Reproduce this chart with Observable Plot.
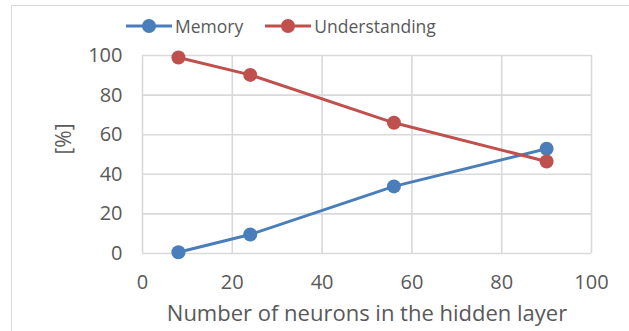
<!DOCTYPE html>
<html>
<head>
<meta charset="utf-8">
<script src="https://cdn.jsdelivr.net/npm/d3@7"></script>
<script src="https://cdn.jsdelivr.net/npm/@observablehq/plot@0.6"></script>
<style>
  body { margin: 0; background: #fff; }
  #wrap { position: relative; width: 629px; height: 331px; overflow: hidden; font-family: "Open Sans", sans-serif; color: #595959; }
  #frame { position: absolute; left: 11px; top: 5px; width: 700px; height: 400px; border: 1.5px solid #d9d9d9; box-sizing: border-box; }
  #chart { position: absolute; left: 0; top: 0; }
  #legend { position: absolute; left: 126px; top: 14px; display: flex; align-items: center; font-size: 17.5px; line-height: 24px; }
  .item { display: flex; align-items: center; margin-right: 22px; }
  .item svg { display: block; margin-right: 3px; }
</style>
</head>
<body>
<div id="wrap">
  <div id="frame"></div>
  <div id="chart"></div>
  <div id="legend"></div>
</div>
<script>
// Hidden-layer size vs. share of memorised / understood samples
const neurons = [8, 24, 56, 90];
const memory = [0.6, 9.6, 33.9, 52.9];
const understanding = [99.0, 90.2, 66.0, 46.5];
const seriesNames = ["Memory", "Understanding"];
const seriesColors = ["#4a7ebb", "#c0504d"];
const xTicks = [0, 20, 40, 60, 80, 100];
const yTicks = [0, 20, 40, 60, 80, 100];
const xTitle = "Number of neurons in the hidden layer";
const yTitle = "[%]";

const rows = [
  ...neurons.map((n, i) => ({series: seriesNames[0], n, v: memory[i]})),
  ...neurons.map((n, i) => ({series: seriesNames[1], n, v: understanding[i]}))
];

const grid = "#d9d9d9";
const text = "#595959";

const chart = Plot.plot({
  width: 629,
  height: 331,
  marginLeft: 142,
  marginRight: 38,
  marginTop: 55,
  marginBottom: 78,
  style: {fontFamily: "'Open Sans', sans-serif", fontSize: "20px", color: text, background: "transparent", overflow: "visible"},
  x: {domain: [0, 100]},
  y: {domain: [0, 100]},
  color: {domain: seriesNames, range: seriesColors},
  marks: [
    Plot.gridX(xTicks, {stroke: grid, strokeOpacity: 1, strokeWidth: 1.6}),
    Plot.gridY(yTicks, {stroke: grid, strokeOpacity: 1, strokeWidth: 1.6}),
    Plot.axisX(xTicks, {tickSize: 0, tickPadding: 21, color: text, fontSize: 20, label: null}),
    Plot.axisY(yTicks, {tickSize: 0, tickPadding: 20, color: text, fontSize: 20, label: null}),
    // axis titles, anchored to the frame
    Plot.text([xTitle], {frameAnchor: "bottom", lineAnchor: "middle", dy: 60, fontSize: 22, fill: text}),
    Plot.text([yTitle], {frameAnchor: "left", lineAnchor: "middle", dx: -78, rotate: -90, fontSize: 21, fill: text}),
    Plot.line(rows, {x: "n", y: "v", z: "series", stroke: "series", strokeWidth: 3}),
    Plot.dot(rows, {x: "n", y: "v", fill: "series", r: 7, stroke: "none"})
  ]
});
document.getElementById("chart").append(chart);

// Legend: line-with-marker swatch plus series name
const legend = document.getElementById("legend");
seriesNames.forEach((name, i) => {
  const item = document.createElement("div");
  item.className = "item";
  item.innerHTML =
    `<svg width="46" height="16"><line x1="0" y1="8" x2="46" y2="8" stroke="${seriesColors[i]}" stroke-width="3"/>` +
    `<circle cx="23" cy="8" r="7" fill="${seriesColors[i]}"/></svg><span>${name}</span>`;
  legend.append(item);
});
</script>
</body>
</html>
